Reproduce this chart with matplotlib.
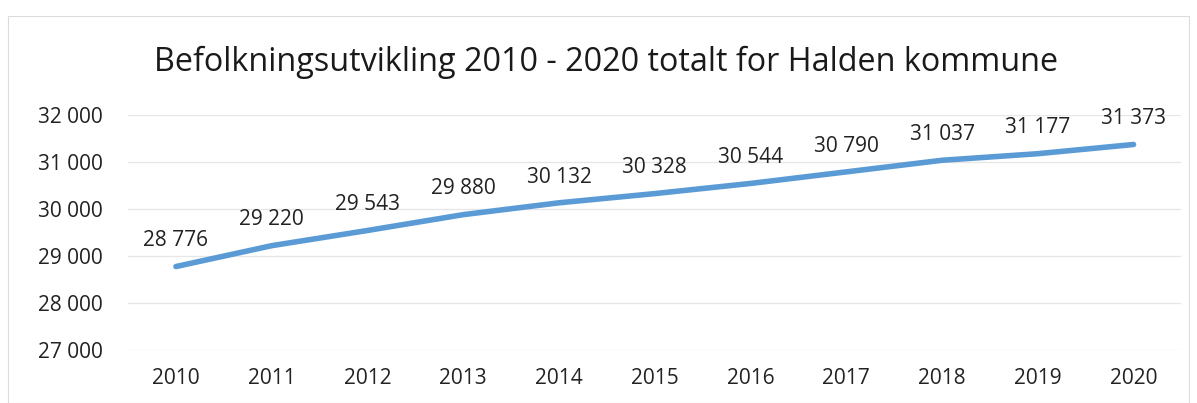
import matplotlib.pyplot as plt
from matplotlib.patches import Rectangle

years = ["2010", "2011", "2012", "2013", "2014", "2015",
         "2016", "2017", "2018", "2019", "2020"]
population = [28776, 29220, 29543, 29880, 30132, 30328,
              30544, 30790, 31037, 31177, 31373]
y_ticks = [27000, 28000, 29000, 30000, 31000, 32000]


def fmt(v):
    return f"{v:,}".replace(",", " ")


plt.rcParams["font.family"] = ["Open Sans", "DejaVu Sans"]

fig = plt.figure(figsize=(11.97, 4.03), dpi=100)
ax = fig.add_axes([0.107, 0.1315, 0.880, 0.5831])

x = list(range(len(years)))
ax.plot(x, population, color="#5b9bd5", linewidth=4, solid_capstyle="round")
for xi, v in zip(x, population):
    ax.annotate(fmt(v), (xi, v), xytext=(0, 11), textcoords="offset points",
                ha="center", va="bottom", fontsize=15, color="#222222")

ax.set_xlim(-0.5, len(years) - 0.5)
ax.set_ylim(27000, 32000)
ax.set_yticks(y_ticks)
ax.set_yticklabels([fmt(t) for t in y_ticks])
ax.set_xticks(x)
ax.set_xticklabels(years)
ax.tick_params(axis="both", length=0, labelsize=15, labelcolor="#222222")
ax.tick_params(axis="y", pad=18)
ax.tick_params(axis="x", pad=13)
ax.grid(axis="y", color="#e6e6e6", linewidth=0.9)
ax.set_axisbelow(True)
for s in ax.spines.values():
    s.set_visible(False)

fig.text(0.506, 0.845, "Befolkningsutvikling 2010 - 2020 totalt for Halden kommune",
         ha="center", va="center", fontsize=23.3, color="#1a1a1a")

fig.patches.append(Rectangle((8 / 1197, 0.0), 1 - 16 / 1197, 1 - 16 / 403,
                             transform=fig.transFigure, fill=False,
                             edgecolor="#dcdcdc", linewidth=0.8))

fig.savefig("out.png", dpi=100)
